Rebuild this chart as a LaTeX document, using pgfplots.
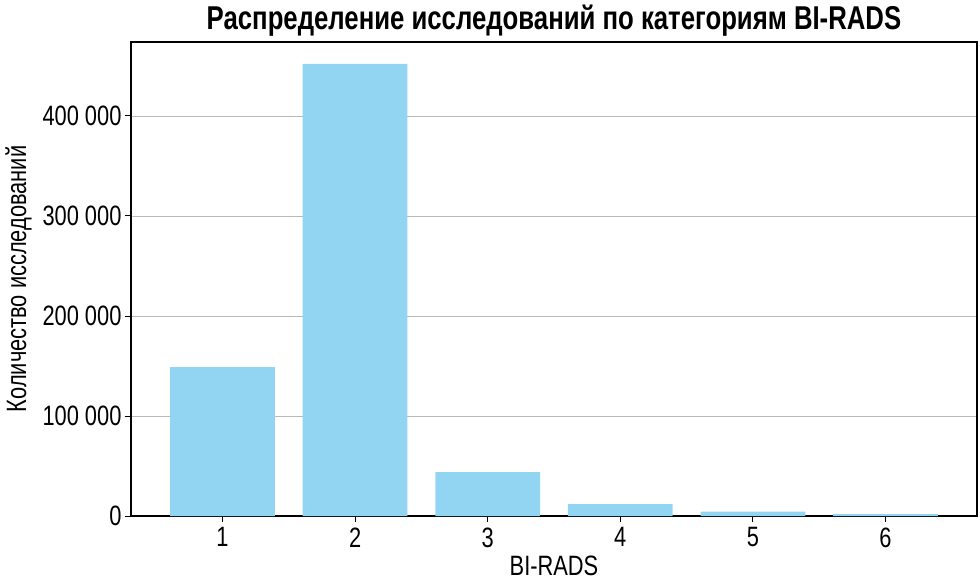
\documentclass[border=0pt]{standalone}
\usepackage{fontspec}
\setmainfont[FakeStretch=0.78]{Liberation Sans}
\usepackage{pgfplots}
\pgfplotsset{compat=1.18}
\definecolor{barblue}{RGB}{146,213,243}
\begin{document}
\begin{tikzpicture}[x=1pt,y=1pt]
\useasboundingbox (0,0) rectangle (980,582);
\begin{axis}[
  at={(131pt,66pt)}, anchor=south west,
  scale only axis, width=846pt, height=474pt,
  xmin=0.31, xmax=6.69, ymin=0, ymax=474000,
  scaled y ticks=false,
  xtick={1,2,3,4,5,6},
  xticklabels={1,2,3,4,5,6},
  ytick={0,100000,200000,300000,400000},
  yticklabels={0,100 000,200 000,300 000,400 000},
  tick align=outside, major tick length=6pt,
  xtick pos=bottom, ytick pos=left,
  ymajorgrids, grid style={gray!55, line width=0.8pt},
  axis line style={black, line width=1.2pt},
  major tick style={black, line width=1pt},
  tick label style={font=\fontsize{28}{30}\selectfont},
  xticklabel style={yshift=-2pt},
  label style={font=\fontsize{28}{30}\selectfont},
  xlabel={BI-RADS}, ylabel={Количество исследований},
  xlabel style={yshift=-2pt},
  ylabel style={yshift=4pt},
  title={\bfseries Распределение исследований по категориям BI-RADS},
  title style={font=\fontsize{33}{35}\selectfont\bfseries, yshift=-4pt},
]
\addplot[ybar, bar width=0.79, fill=barblue, draw=none] coordinates {
 (1,149000) (2,452000) (3,44000) (4,12000) (5,4300) (6,2000)
};
\end{axis}
\end{tikzpicture}
\end{document}
